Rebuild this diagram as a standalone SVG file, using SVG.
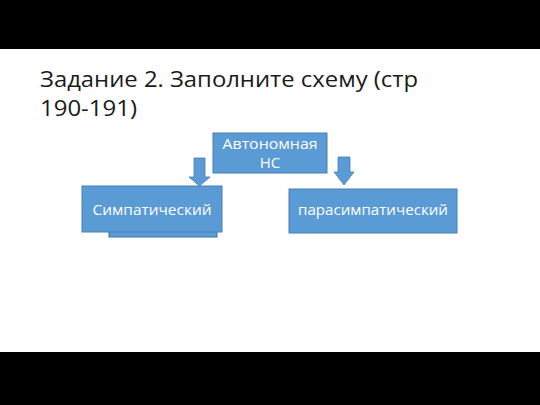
<svg xmlns="http://www.w3.org/2000/svg" width="540" height="405" viewBox="0 0 540 405">
<style>
.box{fill:#5b9bd5;stroke:#4a7fb5;stroke-width:1}
.arrow{fill:#5b9bd5;stroke:#4a7fb5;stroke-width:0.8}
.lbl{font-family:"Open Sans","DejaVu Sans",sans-serif;font-size:15px;fill:#ffffff;text-anchor:middle}
.title{font-family:"Open Sans","DejaVu Sans",sans-serif;font-size:21px;fill:#1a1a1a}
</style>
<rect x="0" y="0" width="540" height="405" fill="#ffffff"/>
<rect x="0" y="0" width="540" height="49" fill="#000000"/>
<rect x="0" y="352" width="540" height="53" fill="#000000"/>
<text class="title" x="40" y="87" textLength="378" lengthAdjust="spacingAndGlyphs">Задание 2. Заполните схему (стр</text>
<text class="title" x="40" y="116" textLength="97" lengthAdjust="spacingAndGlyphs">190-191)</text>
<g id="connectors">
<path class="arrow" d="M194,158 H205 V177 H210 L199.5,186 L189,177 H194 Z"/>
<path class="arrow" d="M338,157 H350 V172 H354 L344,185 L334,172 H338 Z"/>
</g>
<g id="node-auto">
<rect class="box" x="213" y="133" width="114" height="40"/>
<text class="lbl" x="270" y="149" textLength="95" lengthAdjust="spacingAndGlyphs">Автономная</text>
<text class="lbl" x="270" y="168">НС</text>
</g>
<g id="node-symp">
<rect x="109" y="200" width="108" height="37" fill="#5b9bd5" stroke="#3f6f9f" stroke-width="1"/>
<rect class="box" x="82" y="186" width="140" height="46"/>
<text class="lbl" x="152" y="215" textLength="119" lengthAdjust="spacingAndGlyphs">Симпатический</text>
</g>
<g id="node-parasymp">
<rect class="box" x="289" y="189" width="168" height="44"/>
<text class="lbl" x="373" y="215" textLength="150" lengthAdjust="spacingAndGlyphs">парасимпатический</text>
</g>
</svg>
